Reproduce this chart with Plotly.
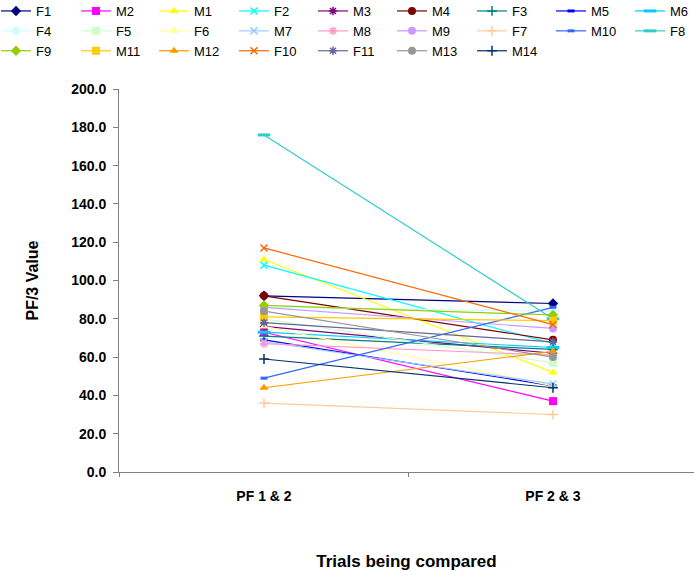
import plotly.graph_objects as go

# Comparison points on the x axis
trials = ["PF 1 & 2", "PF 2 & 3"]

# Subject names, in legend order (row by row)
subjects = ["F1", "M2", "M1", "F2", "M3", "M4", "F3", "M5", "M6",
            "F4", "F5", "F6", "M7", "M8", "M9", "F7", "M10", "F8",
            "F9", "M11", "M12", "F10", "F11", "M13", "M14"]

# PF/3 value for each subject at the two comparisons
pf_12 = [92, 73, 111, 108, 76, 92, 71, 69, 73,
         86, 80, 76, 68, 67, 86, 36, 49, 176,
         87, 81, 44, 117, 78, 84, 59]
pf_23 = [88, 37, 52, 67, 62, 69, 64, 45, 65,
         84, 57, 45, 46, 61, 75, 30, 86, 80,
         82, 79, 63, 77, 68, 60, 44]

colors = ["#000080", "#FF00FF", "#FFFF00", "#00FFFF", "#800080", "#800000", "#008080", "#0000FF", "#00CCFF",
          "#CCFFFF", "#CCFFCC", "#FFFF99", "#99CCFF", "#FF99CC", "#CC99FF", "#FFCC99", "#3366FF", "#33CCCC",
          "#99CC00", "#FFCC00", "#FF9900", "#FF6600", "#666699", "#969696", "#003366"]

# Marker cycle: diamond, square, triangle, x, star, circle, plus, short bar, long bar
cycle = [("diamond", 8, 0), ("square", 8, 0), ("triangle-up", 8, 0),
         ("x-thin-open", 7, 1.5), ("asterisk-open", 7, 1.5), ("circle", 8, 0),
         ("cross-thin-open", 7, 1.5), ("line-ew-open", 5, 3), ("line-ew-open", 9, 3)]

fig = go.Figure()
for i, name in enumerate(subjects):
    sym, size, lw = cycle[i % 9]
    col = i % 9
    fig.add_trace(go.Scatter(
        x=trials, y=[pf_12[i], pf_23[i]], name=name, mode="lines+markers",
        line=dict(color=colors[i], width=1.2),
        marker=dict(symbol=sym, size=size, color=colors[i],
                    line=dict(color=colors[i], width=lw)),
        legend="legend" if col == 0 else f"legend{col + 1}",
    ))

# One legend per column so every column sits at its own x position
text_x = [36, 116, 194, 274, 353, 432, 512, 591, 670]
plot_l, plot_w, plot_t, plot_h = 119, 575, 89, 383
legend_cfg = {}
for c, tx in enumerate(text_x):
    key = "legend" if c == 0 else f"legend{c + 1}"
    legend_cfg[key] = dict(
        x=(tx - 40 - plot_l) / plot_w, xanchor="left",
        y=1 + (plot_t + 4) / plot_h, yanchor="top",
        orientation="v", bgcolor="rgba(0,0,0,0)",
        font=dict(family="Liberation Sans, Arial", size=13, color="#000000"),
        itemwidth=30,
    )

fig.update_layout(
    width=694, height=571,
    margin=dict(l=plot_l, r=0, t=plot_t, b=99, autoexpand=False),
    paper_bgcolor="white", plot_bgcolor="white",
    font=dict(family="Liberation Sans, Arial", color="#000000"),
    showlegend=True,
    **legend_cfg,
)

fig.update_xaxes(
    type="category", range=[-0.5017, 1.488],
    tickson="boundaries", ticks="outside", ticklen=4, tickcolor="#808080",
    showline=True, linecolor="#808080", linewidth=1, showgrid=False, zeroline=False,
    tickfont=dict(size=14, weight="bold"), ticklabelstandoff=11,
    title=dict(text="Trials being compared", font=dict(size=17, weight="bold"), standoff=52),
)
fig.update_yaxes(
    range=[0, 200], dtick=20, tickformat=".1f",
    ticks="outside", ticklen=5, tickcolor="#808080",
    showline=True, linecolor="#808080", linewidth=1, showgrid=False, zeroline=False,
    tickfont=dict(size=14, weight="bold"), ticklabelstandoff=4,
    title=dict(text="PF/3 Value", font=dict(size=16, weight="bold"), standoff=28),
)

fig.write_html("out.html")
